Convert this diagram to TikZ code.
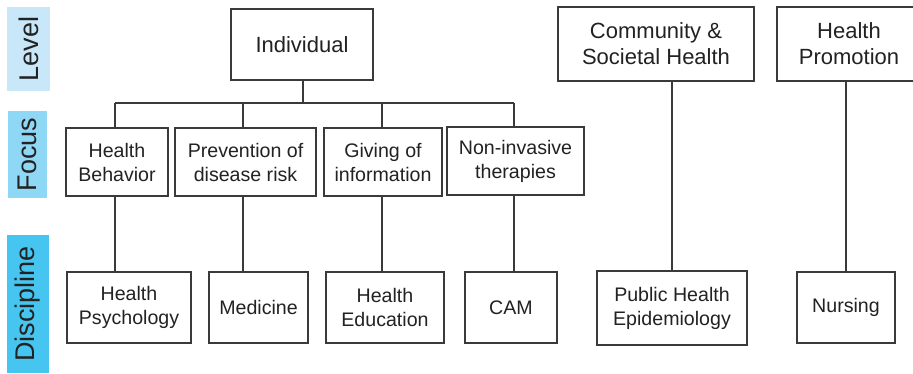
\documentclass[tikz,border=0pt]{standalone}
\usepackage{fontspec}
\setmainfont{Liberation Sans}
\definecolor{linec}{HTML}{3A3A3A}
\definecolor{textc}{HTML}{222222}
\definecolor{lvlc}{HTML}{C8E7F8}
\definecolor{focc}{HTML}{8ED7F5}
\definecolor{disc}{HTML}{46C5F0}
\begin{document}
\begin{tikzpicture}[x=1pt,y=-1pt,
  box/.style={draw=linec, line width=1.2pt, fill=white, align=center,
    inner sep=0pt, text=textc, font=\fontsize{19.6}{24}\selectfont},
  topbox/.style={box, font=\fontsize{22}{26}\selectfont},
  tag/.style={rotate=90, inner sep=0pt, text=textc,
    font=\fontsize{27}{30}\selectfont},
  link/.style={draw=linec, line width=1.2pt}]
\useasboundingbox (0,0) rectangle (913,373);

% row labels
\node[tag, fill=lvlc, minimum width=84pt, minimum height=43pt] (level) at (28.5,49) {Level};
\node[tag, fill=focc, minimum width=87pt, minimum height=39pt] (focus) at (27.5,154.5) {Focus};
\node[tag, fill=disc, minimum width=138pt, minimum height=42pt] (discipline) at (28,304) {Discipline};

% level
\node[topbox, minimum width=142pt, minimum height=71pt] (indiv) at (302,44.5) {Individual};
\node[topbox, minimum width=196pt, minimum height=74pt] (comm) at (656,44) {Community \&\\Societal Health};
\node[topbox, minimum width=144pt, minimum height=74pt] (promo) at (849,44) {Health\\Promotion};

% focus
\node[box, minimum width=102pt, minimum height=68pt] (behav) at (117,162) {Health\\Behavior};
\node[box, minimum width=141pt, minimum height=68pt] (prev) at (245.5,162) {Prevention of\\disease risk};
\node[box, minimum width=118pt, minimum height=68pt] (info) at (383,162) {Giving of\\information};
\node[box, minimum width=137pt, minimum height=68pt] (noninv) at (515.5,161) {Non-invasive\\therapies};

% discipline
\node[box, minimum width=124pt, minimum height=71pt] (psych) at (129,307.5) {Health\\Psychology};
\node[box, minimum width=99pt, minimum height=71pt] (med) at (258.5,307.5) {Medicine};
\node[box, minimum width=118pt, minimum height=71pt] (edu) at (385,307.5) {Health\\Education};
\node[box, minimum width=92pt, minimum height=71pt] (cam) at (511,307.5) {CAM};
\node[box, minimum width=150pt, minimum height=74pt] (pubh) at (672,308) {Public Health\\Epidemiology};
\node[box, minimum width=98pt, minimum height=71pt] (nurs) at (846,307.5) {Nursing};

% branch points of the individual tree
\coordinate (bus) at (303,103);
\coordinate (b1) at (115,103);
\coordinate (b2) at (243,103);
\coordinate (b3) at (382,103);
\coordinate (b4) at (514,103);

% connectors
\draw[link] (indiv.south -| bus) -- (bus);
\draw[link] (b1) -- (b4);
\draw[link] (b1) -- (b1 |- behav.north);
\draw[link] (b2) -- (b2 |- prev.north);
\draw[link] (b3) -- (b3 |- info.north);
\draw[link] (b4) -- (b4 |- noninv.north);
\draw[link] (b1 |- behav.south) -- (b1 |- psych.north);
\draw[link] (b2 |- prev.south) -- (b2 |- med.north);
\draw[link] (b3 |- info.south) -- (b3 |- edu.north);
\draw[link] (b4 |- noninv.south) -- (b4 |- cam.north);
\draw[link] (pubh.north) -- (pubh.north |- comm.south);
\draw[link] (nurs.north) -- (nurs.north |- promo.south);
\end{tikzpicture}
\end{document}
